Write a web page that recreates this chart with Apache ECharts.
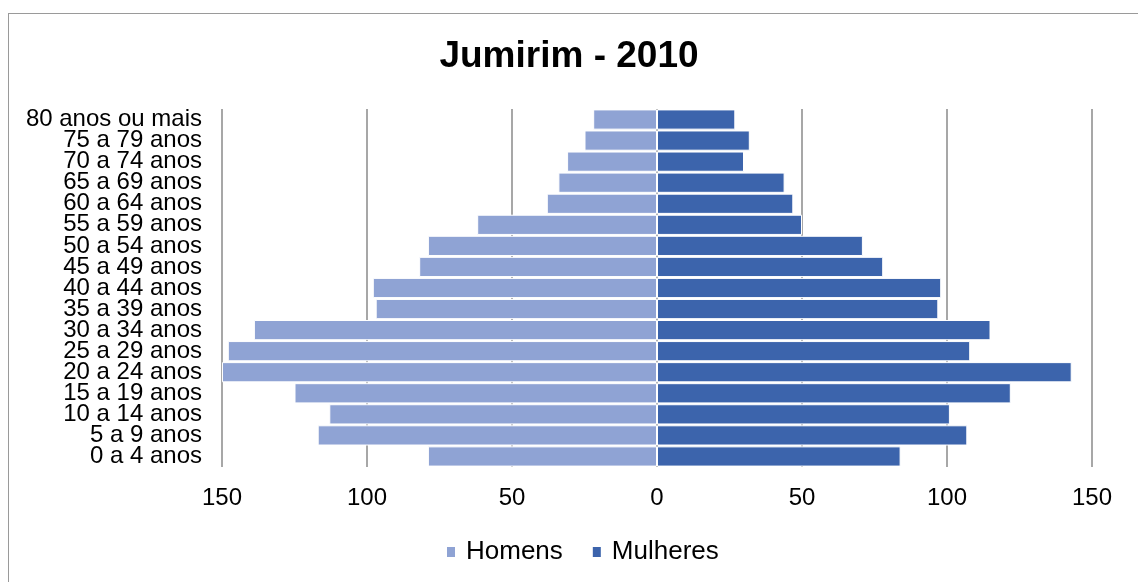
<!DOCTYPE html>
<html>
<head>
<meta charset="utf-8">
<title>Jumirim - 2010</title>
<script src="https://cdn.jsdelivr.net/npm/echarts@6/dist/echarts.min.js"></script>
<style>
  html, body { margin: 0; padding: 0; background: #fff; }
  #frame { position: absolute; left: 8px; top: 13px; width: 1200px; height: 700px;
    border-left: 1px solid #9a9a9a; border-top: 1px solid #9a9a9a; }
  #chart { position: absolute; left: 0; top: 0; width: 1138px; height: 582px; }
</style>
</head>
<body>
<div id="frame"></div>
<div id="chart"></div>
<script>
  // faixas etarias, de baixo para cima
  var faixas = ['0 a 4 anos', '5 a 9 anos', '10 a 14 anos', '15 a 19 anos', '20 a 24 anos',
    '25 a 29 anos', '30 a 34 anos', '35 a 39 anos', '40 a 44 anos', '45 a 49 anos',
    '50 a 54 anos', '55 a 59 anos', '60 a 64 anos', '65 a 69 anos', '70 a 74 anos',
    '75 a 79 anos', '80 anos ou mais']
  var homens = [79, 117, 113, 125, 150, 148, 139, 97, 98, 82, 79, 62, 38, 34, 31, 25, 22]
  var mulheres = [84, 107, 101, 122, 143, 108, 115, 97, 98, 78, 71, 50, 47, 44, 30, 32, 27]
  var xTicks = [-150, -100, -50, 0, 50, 100, 150]

  var fonte = 'Liberation Sans, Arial, sans-serif'
  var chart = echarts.init(document.getElementById('chart'))
  chart.setOption({
    backgroundColor: 'transparent',
    title: {
      text: 'Jumirim - 2010',
      left: 'center',
      top: 33,
      textStyle: { fontFamily: fonte, fontSize: 37, fontWeight: 'bold', color: '#000' }
    },
    legend: {
      bottom: 12,
      left: 440,
      itemWidth: 10,
      itemHeight: 12,
      itemGap: 28,
      icon: 'rect',
      textStyle: { fontFamily: fonte, fontSize: 26, color: '#000', padding: [0, 0, 0, 5] },
      data: ['Homens', 'Mulheres']
    },
    grid: { left: 222, right: 46, top: 109, bottom: 115, containLabel: false },
    xAxis: {
      type: 'value',
      min: xTicks[0],
      max: xTicks[xTicks.length - 1],
      interval: 50,
      axisLine: { show: false },
      axisTick: { show: false },
      axisLabel: {
        margin: 19,
        fontFamily: fonte,
        fontSize: 24,
        color: '#000',
        formatter: function (v) { return Math.abs(v) }
      },
      splitLine: { show: true, lineStyle: { color: '#8a8a8a', width: 1.5 } }
    },
    yAxis: {
      type: 'category',
      data: faixas,
      axisLine: { show: false },
      axisTick: { show: false },
      axisLabel: {
        interval: 0,
        margin: 20,
        fontFamily: fonte,
        fontSize: 24,
        lineHeight: 21,
        color: '#000'
      }
    },
    series: [
      {
        name: 'Homens',
        type: 'bar',
        stack: 'pop',
        barCategoryGap: '4%',
        itemStyle: { color: '#8fa3d4', borderColor: '#fff', borderWidth: 1 },
        data: homens.map(function (v) { return -v })
      },
      {
        name: 'Mulheres',
        type: 'bar',
        stack: 'pop',
        barCategoryGap: '4%',
        itemStyle: { color: '#3c64ac', borderColor: '#fff', borderWidth: 1 },
        data: mulheres
      }
    ]
  })
</script>
</body>
</html>
